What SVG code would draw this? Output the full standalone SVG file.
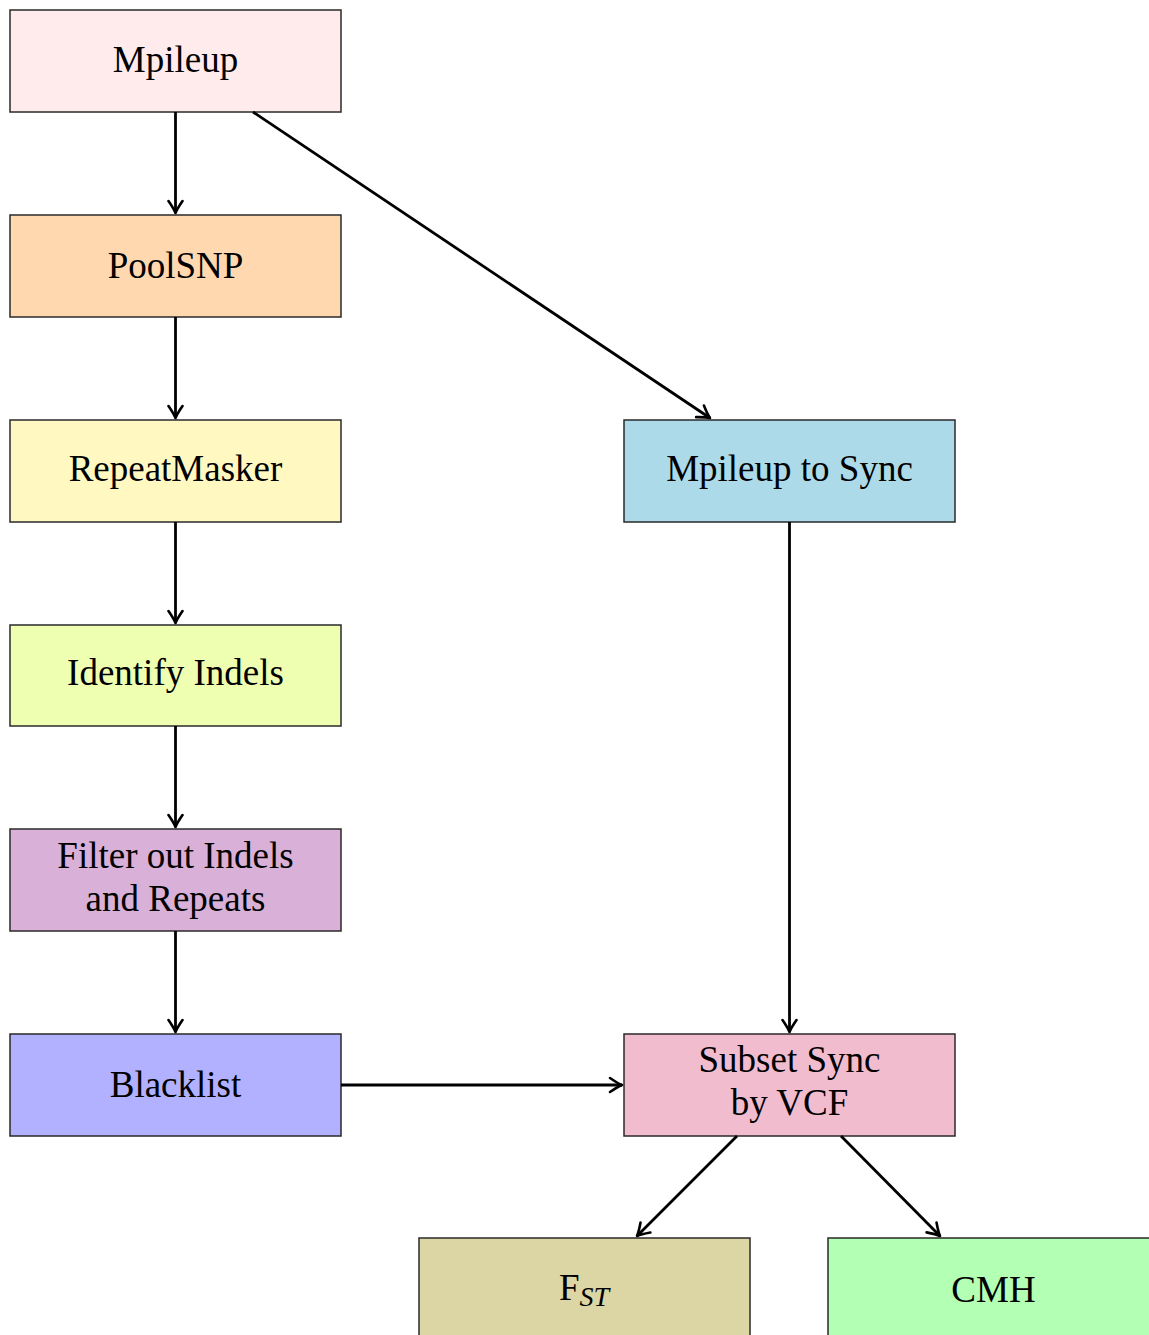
<svg xmlns="http://www.w3.org/2000/svg" width="1149" height="1335" viewBox="0 0 1149 1335">
<style>
.box{stroke:#2a2a2a;stroke-width:1.5}
.lbl{font-family:"Liberation Serif","DejaVu Serif",serif;font-size:37px;fill:#000;text-anchor:middle}
.edge{stroke:#000;stroke-width:2.8;fill:none;marker-end:url(#arr)}
</style>
<defs>
<marker id="arr" markerWidth="18" markerHeight="18" viewBox="-14 -9 16 18" refX="0" refY="0" orient="auto" markerUnits="userSpaceOnUse">
<path d="M-12,-7 Q-4,-1.5 0,0 Q-4,1.5 -12,7" fill="none" stroke="#000" stroke-width="2.6" stroke-linecap="round" stroke-linejoin="round"/>
</marker>
</defs>
<rect width="1149" height="1335" fill="#fff"/>
<g id="mpileup"><rect class="box" x="10" y="10" width="331" height="102" fill="#FFEBEB"/><text class="lbl" x="175.5" y="72">Mpileup</text></g>
<g id="poolsnp"><rect class="box" x="10" y="215" width="331" height="102" fill="#FFD8B0"/><text class="lbl" x="175.5" y="278">PoolSNP</text></g>
<g id="repeatmasker"><rect class="box" x="10" y="420" width="331" height="102" fill="#FFF8C0"/><text class="lbl" x="175.5" y="481">RepeatMasker</text></g>
<g id="identify"><rect class="box" x="10" y="625" width="331" height="101" fill="#EEFFB2"/><text class="lbl" x="175.5" y="685">Identify Indels</text></g>
<g id="filter"><rect class="box" x="10" y="829" width="331" height="102" fill="#D9B0D7"/><text class="lbl" x="175.5" y="868">Filter out Indels</text><text class="lbl" x="175.5" y="911">and Repeats</text></g>
<g id="blacklist"><rect class="box" x="10" y="1034" width="331" height="102" fill="#B1B1FF"/><text class="lbl" x="175.5" y="1097">Blacklist</text></g>
<g id="sync"><rect class="box" x="624" y="420" width="331" height="102" fill="#ADDAE8"/><text class="lbl" x="789.5" y="481">Mpileup to Sync</text></g>
<g id="subset"><rect class="box" x="624" y="1034" width="331" height="102" fill="#F2BCCF"/><text class="lbl" x="789.5" y="1072">Subset Sync</text><text class="lbl" x="789.5" y="1115">by VCF</text></g>
<g id="fst"><rect class="box" x="419" y="1238" width="331" height="110" fill="#DCD6A5"/><text class="lbl" x="584" y="1300">F<tspan font-style="italic" font-size="28" dy="6">ST</tspan></text></g>
<g id="cmh"><rect class="box" x="828" y="1238" width="331" height="110" fill="#B3FFB3"/><text class="lbl" x="993.5" y="1302">CMH</text></g>
<g id="connectors">
<line class="edge" x1="175.5" y1="112" x2="175.5" y2="213"/>
<line class="edge" x1="175.5" y1="317" x2="175.5" y2="418"/>
<line class="edge" x1="175.5" y1="522" x2="175.5" y2="623"/>
<line class="edge" x1="175.5" y1="726" x2="175.5" y2="827"/>
<line class="edge" x1="175.5" y1="931" x2="175.5" y2="1032"/>
<line class="edge" x1="253" y1="112" x2="710" y2="418"/>
<line class="edge" x1="789.5" y1="522" x2="789.5" y2="1032"/>
<line class="edge" x1="341" y1="1085" x2="622" y2="1085"/>
<line class="edge" x1="737" y1="1136" x2="637" y2="1236"/>
<line class="edge" x1="841" y1="1136" x2="940" y2="1236"/>
</g>
</svg>
